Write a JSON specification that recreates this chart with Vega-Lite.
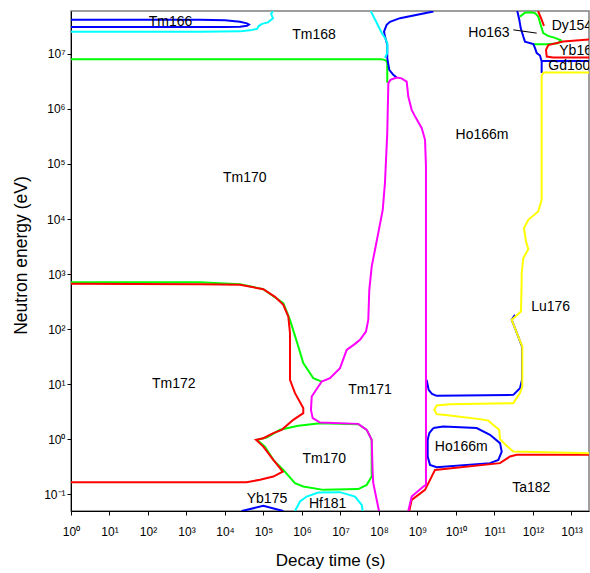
{
  "$schema": "https://vega.github.io/schema/vega-lite/v6.json",
  "width": 518,
  "height": 500,
  "autosize": {"type": "none"},
  "padding": {"left": 71, "top": 11, "right": 1, "bottom": 62},
  "config": {
    "view": {"stroke": "#7f7f7f", "strokeWidth": 1.5},
    "font": "Liberation Sans",
    "axis": {
      "grid": false,
      "domainColor": "#000000",
      "tickColor": "#000000",
      "labelColor": "#000000",
      "titleColor": "#000000",
      "labelFont": "Liberation Sans",
      "titleFont": "Liberation Sans",
      "labelFontSize": 12,
      "titleFontWeight": "normal",
      "tickSize": 4,
      "labelFlush": false,
      "labelOverlap": false
    }
  },
  "datasets": {
    "lines": [
      {"s":"g3","x":1,"y":710},{"s":"g3","x":2240,"y":710},{"s":"g3","x":24500,"y":658},{"s":"g3","x":98900,"y":534},{"s":"g3","x":327000,"y":297},{"s":"g3","x":488000,"y":148},{"s":"g3","x":802000,"y":48.4},{"s":"g3","x":1080000,"y":24.2},{"s":"g3","x":1970000,"y":12.9},{"s":"g3","x":3250000,"y":11.2},
      {"s":"g2","x":67800,"y":0.98},{"s":"g2","x":121000,"y":1.08},{"s":"g2","x":268000,"y":1.49},{"s":"g2","x":802000,"y":1.76},{"s":"g2","x":2940000,"y":1.97},{"s":"g2","x":29000000,"y":1.89},{"s":"g2","x":48000000,"y":1.49},{"s":"g2","x":64600000,"y":0.98},{"s":"g2","x":64600000,"y":0.211},{"s":"g2","x":48000000,"y":0.149},{"s":"g2","x":29000000,"y":0.125},{"s":"g2","x":3570000,"y":0.121},{"s":"g2","x":1080000,"y":0.139},{"s":"g2","x":658000,"y":0.16},{"s":"g2","x":327000,"y":0.279},{"s":"g2","x":180000,"y":0.424},{"s":"g2","x":109000,"y":0.74},{"s":"g2","x":67800,"y":0.98},
      {"s":"g1","x":1,"y":8020000},{"s":"g1","x":117000000,"y":8020000},{"s":"g1","x":148000000,"y":7620000},{"s":"g1","x":164000000,"y":7010000},{"s":"g1","x":164000000,"y":2980000},
      {"s":"g4","x":459000000000,"y":47500000},{"s":"g4","x":619000000000,"y":55600000},{"s":"g4","x":836000000000,"y":56700000},{"s":"g4","x":1130000000000,"y":54900000},{"s":"g4","x":1370000000000,"y":47500000},{"s":"g4","x":1580000000000,"y":33700000},{"s":"g4","x":1850000000000,"y":23800000},{"s":"g4","x":2460000000000,"y":21200000},{"s":"g4","x":3730000000000,"y":19500000},{"s":"g4","x":5330000000000,"y":17600000},{"s":"g4","x":4460000000000,"y":15600000},{"s":"g4","x":2270000000000,"y":15000000},{"s":"g4","x":1000000000000,"y":15000000},
      {"s":"b1","x":1,"y":41500000},{"s":"b1","x":2240,"y":41500000},{"s":"b1","x":10000,"y":40600000},{"s":"b1","x":24500,"y":38100000},{"s":"b1","x":37300,"y":35800000},{"s":"b1","x":42000,"y":34100000},{"s":"b1","x":37300,"y":32300000},{"s":"b1","x":24500,"y":31200000},{"s":"b1","x":10000,"y":30600000},{"s":"b1","x":2240,"y":30600000},{"s":"b1","x":1,"y":30600000},
      {"s":"b2","x":2600000000,"y":59000000},{"s":"b2","x":351000000,"y":44500000},{"s":"b2","x":193000000,"y":38100000},{"s":"b2","x":158000000,"y":33700000},{"s":"b2","x":135000000,"y":25400000},{"s":"b2","x":143000000,"y":20600000},{"s":"b2","x":164000000,"y":14600000},{"s":"b2","x":164000000,"y":8360000},{"s":"b2","x":185000000,"y":5130000},{"s":"b2","x":235000000,"y":4170000},{"s":"b2","x":288000000,"y":3720000},
      {"s":"b3","x":1730000000,"y":12.0},{"s":"b3","x":1950000000,"y":7.92},{"s":"b3","x":2380000000,"y":6.7},{"s":"b3","x":3150000000,"y":6.17},{"s":"b3","x":308000000000,"y":6.43},{"s":"b3","x":459000000000,"y":8.51},{"s":"b3","x":518000000000,"y":12.0},{"s":"b3","x":518000000000,"y":48.4},{"s":"b3","x":415000000000,"y":73.6},{"s":"b3","x":280000000000,"y":148},{"s":"b3","x":340000000000,"y":182},
      {"s":"b4","x":2570000000,"y":1.6},{"s":"b4","x":4680000000,"y":1.71},{"s":"b4","x":34500000000,"y":1.6},{"s":"b4","x":76400000000,"y":1.21},{"s":"b4","x":139000000000,"y":0.853},{"s":"b4","x":154000000000,"y":0.6},{"s":"b4","x":126000000000,"y":0.424},{"s":"b4","x":76400000000,"y":0.37},{"s":"b4","x":3150000000,"y":0.313},{"s":"b4","x":2110000000,"y":0.344},{"s":"b4","x":1840000000,"y":0.488},{"s":"b4","x":1840000000,"y":0.98},{"s":"b4","x":2020000000,"y":1.3},{"s":"b4","x":2570000000,"y":1.6},
      {"s":"b5","x":27200,"y":0.05},{"s":"b5","x":98900,"y":0.062},{"s":"b5","x":327000,"y":0.05},
      {"s":"b6","x":391000000000,"y":60000000},{"s":"b6","x":441000000000,"y":41500000},{"s":"b6","x":480000000000,"y":29300000},{"s":"b6","x":560000000000,"y":20600000},{"s":"b6","x":619000000000,"y":16700000},{"s":"b6","x":1020000000000,"y":15000000},{"s":"b6","x":1130000000000,"y":12700000},{"s":"b6","x":1250000000000,"y":10300000},{"s":"b6","x":1520000000000,"y":9320000},{"s":"b6","x":1680000000000,"y":7250000},{"s":"b6","x":1680000000000,"y":4470000},
      {"s":"b7","x":1680000000000,"y":7400000},{"s":"b7","x":28500000000000,"y":7400000},
      {"s":"c1","x":1,"y":25100000},{"s":"c1","x":2240,"y":25100000},{"s":"c1","x":24500,"y":25600000},{"s":"c1","x":44600,"y":26700000},{"s":"c1","x":67800,"y":28400000},{"s":"c1","x":76400,"y":32300000},{"s":"c1","x":91400,"y":35100000},{"s":"c1","x":131000,"y":37300000},{"s":"c1","x":177000,"y":44200000},{"s":"c1","x":157000,"y":53200000},{"s":"c1","x":177000,"y":60000000},
      {"s":"c2","x":60800000,"y":60000000},{"s":"c2","x":87100000,"y":36600000},{"s":"c2","x":117000000,"y":24100000},{"s":"c2","x":143000000,"y":19500000},{"s":"c2","x":164000000,"y":15800000},{"s":"c2","x":164000000,"y":10400000},{"s":"c2","x":143000000,"y":8460000},
      {"s":"c3","x":658000,"y":0.05},{"s":"c3","x":887000,"y":0.0743},{"s":"c3","x":1320000,"y":0.0915},{"s":"c3","x":2650000,"y":0.108},{"s":"c3","x":9700000,"y":0.11},{"s":"c3","x":23800000,"y":0.0915},{"s":"c3","x":35600000,"y":0.0647},{"s":"c3","x":37700000,"y":0.05},
      {"s":"r2","x":1,"y":667},{"s":"r2","x":2240,"y":658},{"s":"r2","x":24500,"y":639},{"s":"r2","x":98900,"y":534},{"s":"r2","x":199000,"y":387},{"s":"r2","x":327000,"y":277},{"s":"r2","x":441000,"y":170},{"s":"r2","x":488000,"y":84.8},{"s":"r2","x":488000,"y":12.0},{"s":"r2","x":658000,"y":6.9},{"s":"r2","x":1080000,"y":3.69},{"s":"r2","x":1080000,"y":2.99},{"s":"r2","x":594000,"y":2.26},{"s":"r2","x":297000,"y":1.49},{"s":"r2","x":180000,"y":1.3},{"s":"r2","x":98900,"y":1.05},{"s":"r2","x":63800,"y":0.98},{"s":"r2","x":98900,"y":0.74},{"s":"r2","x":180000,"y":0.424},{"s":"r2","x":316000,"y":0.26},{"s":"r2","x":180000,"y":0.211},{"s":"r2","x":81100,"y":0.184},{"s":"r2","x":36600,"y":0.167},{"s":"r2","x":2240,"y":0.167},{"s":"r2","x":1,"y":0.167},
      {"s":"r1","x":612000000,"y":0.05},{"s":"r1","x":706000000,"y":0.0797},{"s":"r1","x":1570000000,"y":0.121},{"s":"r1","x":2850000000,"y":0.279},{"s":"r1","x":139000000000,"y":0.37},{"s":"r1","x":253000000000,"y":0.488},{"s":"r1","x":378000000000,"y":0.523},{"s":"r1","x":28500000000000,"y":0.523},
      {"s":"r3","x":28500000000000,"y":18300000},{"s":"r3","x":6120000000000,"y":16700000},{"s":"r3","x":2500000000000,"y":14400000},{"s":"r3","x":2180000000000,"y":11800000},{"s":"r3","x":2270000000000,"y":8930000},{"s":"r3","x":3310000000000,"y":8570000},{"s":"r3","x":28500000000000,"y":8570000},
      {"s":"r4","x":1350000000000,"y":60000000},{"s":"r4","x":1610000000000,"y":45200000},{"s":"r4","x":1930000000000,"y":32300000},
      {"s":"m1","x":100000000,"y":0.05},{"s":"m1","x":71100000,"y":0.16},{"s":"m1","x":68600000,"y":0.243},{"s":"m1","x":64600000,"y":0.98},{"s":"m1","x":48000000,"y":1.49},{"s":"m1","x":29000000,"y":1.91},{"s":"m1","x":2940000,"y":2.02},{"s":"m1","x":1900000,"y":2.43},{"s":"m1","x":1710000,"y":3.43},{"s":"m1","x":1790000,"y":5.99},{"s":"m1","x":3250000,"y":11.2},{"s":"m1","x":5330000,"y":12.9},{"s":"m1","x":9700000,"y":19.6},{"s":"m1","x":14500000,"y":42.2},{"s":"m1","x":23800000,"y":54.2},{"s":"m1","x":32100000,"y":64.1},{"s":"m1","x":45900000,"y":90.7},{"s":"m1","x":52700000,"y":148},{"s":"m1","x":56000000,"y":519},{"s":"m1","x":64600000,"y":1370},{"s":"m1","x":78700000,"y":2770},{"s":"m1","x":95900000,"y":5620},{"s":"m1","x":125000000,"y":14700},{"s":"m1","x":143000000,"y":45500},{"s":"m1","x":164000000,"y":368000},{"s":"m1","x":175000000,"y":2940000},{"s":"m1","x":199000000,"y":3370000},{"s":"m1","x":288000000,"y":3720000},{"s":"m1","x":384000000,"y":3590000},{"s":"m1","x":524000000,"y":3140000},{"s":"m1","x":577000000,"y":1680000},{"s":"m1","x":706000000,"y":962000},{"s":"m1","x":914000000,"y":681000},{"s":"m1","x":1290000000,"y":448000},{"s":"m1","x":1570000000,"y":275000},{"s":"m1","x":1660000000,"y":90000},{"s":"m1","x":1660000000,"y":0.149},{"s":"m1","x":1420000000,"y":0.139},{"s":"m1","x":706000000,"y":0.0914},{"s":"m1","x":577000000,"y":0.05},
      {"s":"y1","x":28500000000000,"y":0.561},{"s":"y1","x":308000000000,"y":0.6},{"s":"y1","x":207000000000,"y":0.762},{"s":"y1","x":139000000000,"y":1.01},{"s":"y1","x":133000000000,"y":1.49},{"s":"y1","x":93100000000,"y":1.83},{"s":"y1","x":69000000000,"y":2.19},{"s":"y1","x":42000000000,"y":2.33},{"s":"y1","x":4680000000,"y":2.79},{"s":"y1","x":3150000000,"y":2.87},{"s":"y1","x":2730000000,"y":3.44},{"s":"y1","x":3150000000,"y":4.11},{"s":"y1","x":6980000000,"y":4.36},{"s":"y1","x":308000000000,"y":4.54},{"s":"y1","x":459000000000,"y":6.9},{"s":"y1","x":527000000000,"y":9.04},{"s":"y1","x":527000000000,"y":48.4},{"s":"y1","x":415000000000,"y":73.6},{"s":"y1","x":280000000000,"y":148},{"s":"y1","x":488000000000,"y":209},{"s":"y1","x":508000000000,"y":788},{"s":"y1","x":508000000000,"y":1040},{"s":"y1","x":560000000000,"y":1950},{"s":"y1","x":755000000000,"y":2840},{"s":"y1","x":658000000000,"y":3910},{"s":"y1","x":583000000000,"y":6840},{"s":"y1","x":755000000000,"y":9680},{"s":"y1","x":1370000000000,"y":13700},{"s":"y1","x":1680000000000,"y":22300},{"s":"y1","x":1680000000000,"y":3990000},{"s":"y1","x":1870000000000,"y":4580000},{"s":"y1","x":28500000000000,"y":4580000}
    ],
    "labels": [
      {"t":"Tm166","x":384,"y":38600000},
      {"t":"Tm168","x":2050000,"y":22100000},
      {"t":"Ho163","x":71900000000,"y":23800000},
      {"t":"Tm170","x":32500,"y":55300},
      {"t":"Ho166m","x":47300000000,"y":339000},
      {"t":"Lu176","x":2880000000000,"y":252},
      {"t":"Tm172","x":465,"y":10.05},
      {"t":"Tm171","x":58400000,"y":7.92},
      {"t":"Tm170","x":3800000,"y":0.443},
      {"t":"Ho166m","x":13700000000,"y":0.74},
      {"t":"Ta182","x":904000000000,"y":0.13},
      {"t":"Yb175","x":123000,"y":0.082},
      {"t":"Hf181","x":4640000,"y":0.0674}
    ],
    "labelsLeft": [
      {"t":"Dy154","x":3060000000000,"y":32700000},
      {"t":"Yb169","x":4820000000000,"y":11300000},
      {"t":"Gd160","x":2490000000000,"y":6050000}
    ],
    "leader": [
      {"x":308000000000,"y":27300000,"x2":1250000000000,"y2":23800000}
    ]
  },
  "layer": [
    {
      "data": {"name": "lines"},
      "mark": {"type": "line", "strokeWidth": 2, "clip": true},
      "encoding": {
        "x": {
          "field": "x", "type": "quantitative",
          "scale": {"type": "log", "domain": [1, 28500000000000], "nice": false},
          "axis": {
            "title": "Decay time (s)",
            "values": [1, 10, 100, 1000, 10000, 100000, 1000000, 10000000, 100000000, 1000000000, 10000000000, 100000000000, 1000000000000, 10000000000000],
            "labelExpr": "'10' + ['⁰','¹','²','³','⁴','⁵','⁶','⁷','⁸','⁹','¹⁰','¹¹','¹²','¹³'][round(log(datum.value)/LN10)]",
            "labelPadding": 11,
            "titleFontSize": 17,
            "titleBaseline": "alphabetic",
            "titleY": 54
          }
        },
        "y": {
          "field": "y", "type": "quantitative",
          "scale": {"type": "log", "domain": [0.05, 60000000], "nice": false},
          "axis": {
            "title": "Neutron energy (eV)",
            "values": [0.1, 1, 10, 100, 1000, 10000, 100000, 1000000, 10000000],
            "labelExpr": "'10' + ['⁻¹','⁰','¹','²','³','⁴','⁵','⁶','⁷'][round(log(datum.value)/LN10)+1]",
            "labelPadding": 2,
            "titleFontSize": 17.5,
            "titleBaseline": "bottom",
            "titleX": -41,
            "titleY": 244
          }
        },
        "color": {
          "field": "s", "type": "nominal", "legend": null,
          "scale": {
            "domain": ["g1","g2","g3","g4","b1","b2","b3","b4","b5","b6","b7","c1","c2","c3","r1","r2","r3","r4","m1","y1"],
            "range": ["#00ff00","#00ff00","#00ff00","#00ff00","#0000ff","#0000ff","#0000ff","#0000ff","#0000ff","#0000ff","#0000ff","#00ffff","#00ffff","#00ffff","#ff0000","#ff0000","#ff0000","#ff0000","#ff00ff","#ffff00"]
          }
        },
        "order": {"value": null}
      }
    },
    {
      "data": {"name": "leader"},
      "mark": {"type": "rule", "color": "#000000", "strokeWidth": 1},
      "encoding": {
        "x": {"field": "x", "type": "quantitative"},
        "y": {"field": "y", "type": "quantitative"},
        "x2": {"field": "x2"},
        "y2": {"field": "y2"}
      }
    },
    {
      "data": {"name": "labels"},
      "mark": {"type": "text", "fontSize": 14, "font": "Liberation Sans", "color": "#000000", "align": "center", "baseline": "middle", "clip": true},
      "encoding": {
        "x": {"field": "x", "type": "quantitative"},
        "y": {"field": "y", "type": "quantitative"},
        "text": {"field": "t"}
      }
    },
    {
      "data": {"name": "labelsLeft"},
      "mark": {"type": "text", "fontSize": 14, "font": "Liberation Sans", "color": "#000000", "align": "left", "baseline": "middle", "clip": true},
      "encoding": {
        "x": {"field": "x", "type": "quantitative"},
        "y": {"field": "y", "type": "quantitative"},
        "text": {"field": "t"}
      }
    }
  ]
}
